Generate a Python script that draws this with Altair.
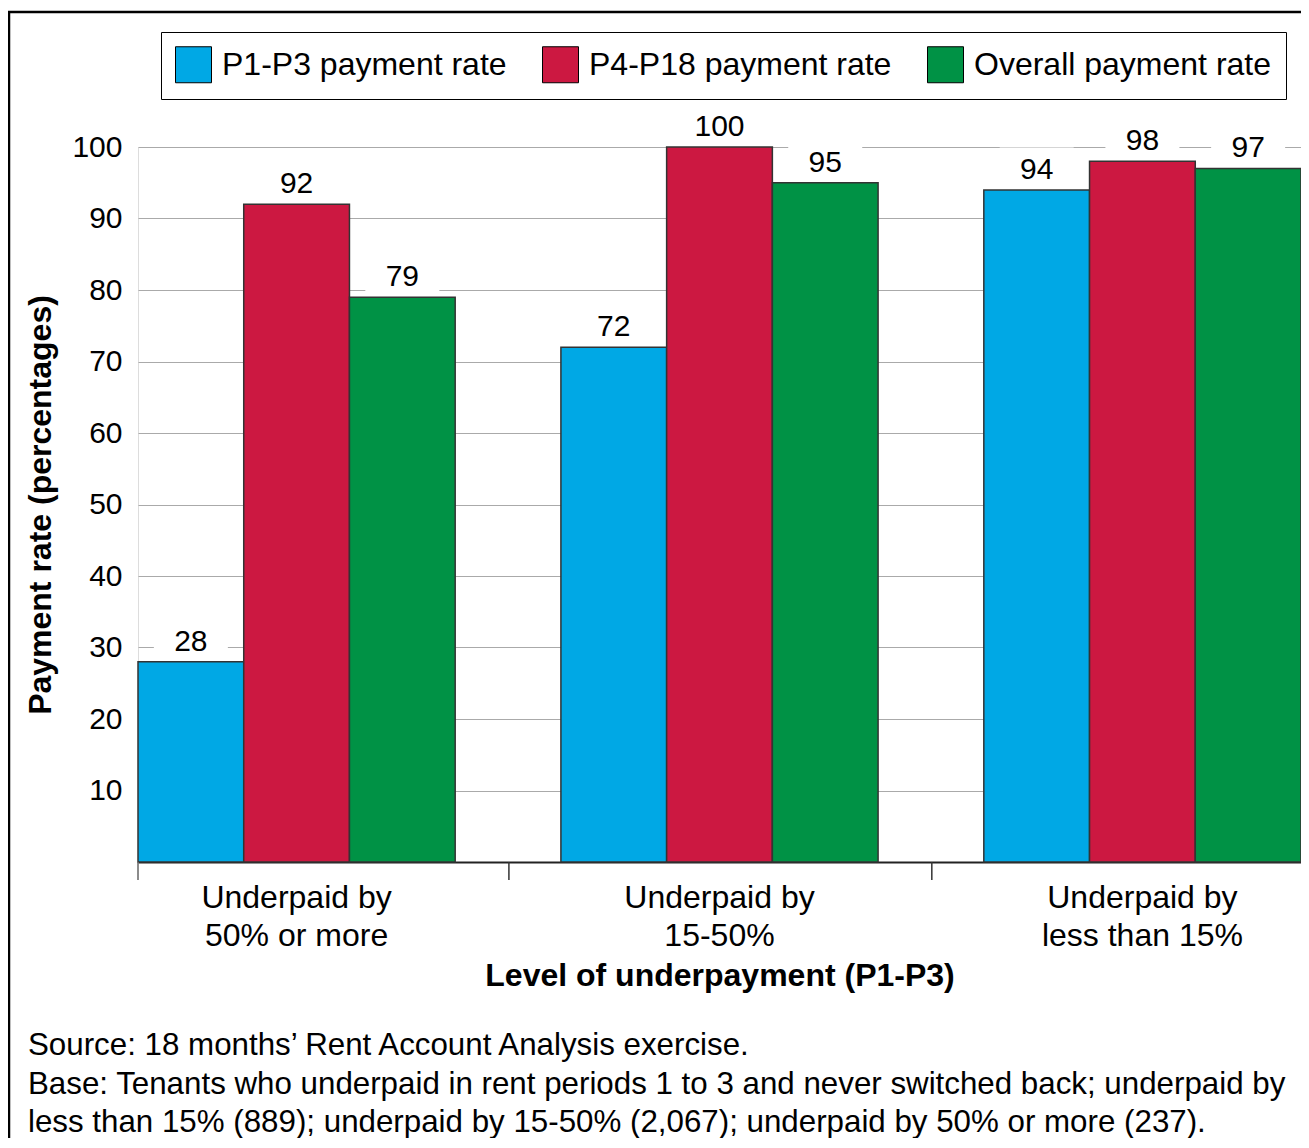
import altair as alt
import pandas as pd

categories = ["Underpaid by\n50% or more", "Underpaid by\n15-50%", "Underpaid by\nless than 15%"]
series = ["P1-P3 payment rate", "P4-P18 payment rate", "Overall payment rate"]
colors = ["#00A8E5", "#CC1841", "#009245"]
p1_p3 = [28, 72, 94]
p4_p18 = [92, 100, 98]
overall = [79, 95, 97]
y_ticks = [10, 20, 30, 40, 50, 60, 70, 80, 90, 100]
footnote = [
    "Source: 18 months\u2019 Rent Account Analysis exercise.",
    "Base: Tenants who underpaid in rent periods 1 to 3 and never switched back; underpaid by",
    "less than 15% (889); underpaid by 15-50% (2,067); underpaid by 50% or more (237).",
]

rows = []
for s, vals in zip(series, [p1_p3, p4_p18, overall]):
    for c, v in zip(categories, vals):
        rows.append({"cat": c, "series": s, "value": v})
df = pd.DataFrame(rows)

FONT = "Liberation Sans"
W, H = 1163, 715

x_axis = alt.Axis(
    title="Level of underpayment (P1-P3)",
    labelExpr="split(datum.label, '\\n')",
    labelAngle=0,
    labelFontSize=32,
    labelLineHeight=38,
    labelPadding=20,
    labelLimit=0,
    labelColor="black",
    labelFont=FONT,
    ticks=False,
    domainColor="#222",
    domainWidth=2,
    titleFont=FONT,
    titleFontSize=32,
    titleFontWeight="bold",
    titleColor="black",
    titlePadding=9,
    titleLimit=0,
)


def xenc():
    return alt.X(
        "cat:N",
        sort=categories,
        scale=alt.Scale(paddingInner=0.25, paddingOuter=0),
        axis=x_axis,
    )


def xoff():
    return alt.XOffset("series:N", sort=series, scale=alt.Scale(paddingInner=0, paddingOuter=0))


y_enc = alt.Y(
    "value:Q",
    scale=alt.Scale(domain=[0, 100], nice=False),
    axis=alt.Axis(
        title="Payment rate (percentages)",
        values=y_ticks,
        grid=True,
        gridColor="#aaaaaa",
        gridWidth=1,
        domain=False,
        ticks=False,
        labelPadding=16,
        labelFontSize=30,
        labelFont=FONT,
        labelColor="black",
        titleFont=FONT,
        titleFontSize=32,
        titleFontWeight="bold",
        titleColor="black",
        titlePadding=14,
        titleLimit=0,
    ),
)

base = alt.Chart(df)

bars = base.mark_bar(stroke="#333333", strokeWidth=1.5).encode(
    x=xenc(),
    xOffset=xoff(),
    y=y_enc,
    color=alt.Color(
        "series:N",
        sort=series,
        scale=alt.Scale(domain=series, range=colors),
        legend=alt.Legend(
            title=None,
            orient="none",
            legendX=23,
            legendY=-115,
            direction="horizontal",
            strokeColor="black",
            fillColor="white",
            padding=14,
            columnPadding=33,
            symbolType="square",
            symbolSize=1296,
            symbolStrokeColor="black",
            symbolStrokeWidth=1,
            symbolOpacity=1,
            labelFontSize=32,
            labelFont=FONT,
            labelColor="black",
            labelOffset=10,
            labelLimit=0,
        ),
    ),
)

boxes = base.mark_point(
    shape="M-1,-0.55H1V0.55H-1Z",
    size=74 * 74,
    filled=True,
    color="white",
    opacity=1,
    yOffset=-22,
).encode(x=xenc(), xOffset=xoff(), y=alt.Y("value:Q"))

labels = base.mark_text(
    fontSize=30, font=FONT, color="black", baseline="alphabetic", dy=-11
).encode(x=xenc(), xOffset=xoff(), y=alt.Y("value:Q"), text=alt.Text("value:Q"))

tick_df = pd.DataFrame({"cat": categories[1:]})
ticks = alt.Chart(tick_df).mark_rule(color="#333333", strokeWidth=1.5, xOffset=-52).encode(
    x=alt.X("cat:N", sort=categories, bandPosition=0, scale=alt.Scale(paddingInner=0.25, paddingOuter=0), axis=x_axis),
    y=alt.value(H),
    y2=alt.value(H + 18),
)

one = pd.DataFrame({"k": [0]})
first_tick = alt.Chart(one).mark_rule(color="#666666", strokeWidth=1.5).encode(
    x=alt.value(0), y=alt.value(H), y2=alt.value(H + 18)
)

border = alt.Chart(one).mark_rect(fillOpacity=0, stroke="black", strokeWidth=2.5).encode(
    x=alt.value(-129), x2=alt.value(W + 100), y=alt.value(-135), y2=alt.value(H + 400)
)

notes = alt.Chart(one).mark_text(
    text=footnote,
    align="left",
    baseline="top",
    fontSize=31.3,
    font=FONT,
    color="black",
    lineHeight=38.5,
).encode(x=alt.value(-110), y=alt.value(883))

chart = (
    alt.layer(bars, boxes, labels, ticks, first_tick, border, notes)
    .properties(
        width=W,
        height=H,
        autosize=alt.AutoSizeParams(type="none"),
        padding={"left": 130, "top": 139, "right": 0, "bottom": 276},
    )
    .configure_view(stroke="#555555", strokeWidth=1.5)
    .configure(background="white")
)

chart.save("out.html", embed_options={"renderer": "svg", "actions": False})
